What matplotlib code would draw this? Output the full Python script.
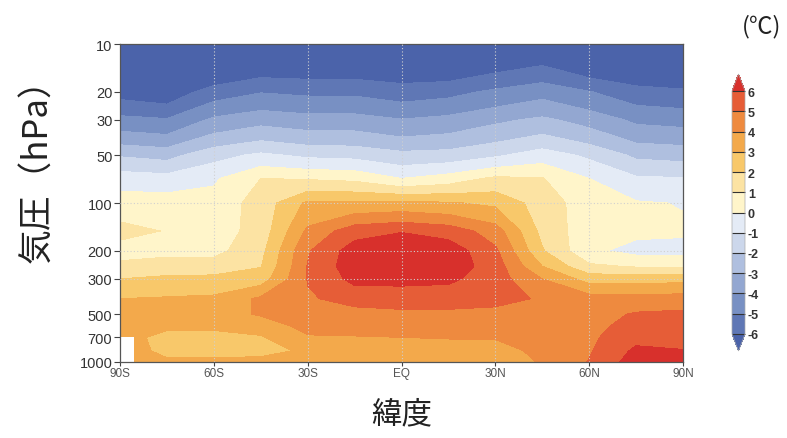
import numpy as np
import matplotlib
matplotlib.use("Agg")
import matplotlib.pyplot as plt
from matplotlib.colors import ListedColormap, BoundaryNorm
from matplotlib.ticker import NullLocator

plt.rcParams['font.family'] = ['Liberation Sans', 'DejaVu Sans']
plt.rcParams['axes.unicode_minus'] = False

# ---- data -------------------------------------------------------------
latitudes = [-90, -75, -60, -45, -30, -15, 0, 15, 30, 45, 60, 75, 90]
pressure_levels = [1000, 850, 700, 600, 500, 400, 300, 250, 200, 150, 100, 70, 50, 30, 20, 10]

# zonal-mean temperature change (degC); one row per pressure level (1000 -> 10 hPa),
# columns follow `latitudes`
temperature_change = [
    [3.6, 3.2, 3.2, 3.2, 3.3, 3.3, 3.3, 3.3, 3.4, 4.1, 5.05, 6.5, 6.4],      # 1000
    [3.6, 2.7, 2.7, 2.8, 3.1, 3.6, 3.6, 3.6, 3.7, 4.2, 4.9, 6.2, 6.05],      # 850
    [3.5, 2.6, 2.6, 2.9, 3.9, 3.95, 4.0, 4.05, 4.05, 4.3, 4.8, 5.7, 5.6],    # 700
    [3.5, 3.2, 3.2, 3.4, 4.3, 4.3, 4.4, 4.4, 4.4, 4.4, 4.7, 5.4, 5.4],       # 600
    [3.4, 3.4, 3.6, 4.1, 4.6, 4.7, 4.8, 4.8, 4.7, 4.6, 4.6, 5.1, 5.2],       # 500
    [3.0, 3.1, 3.2, 4.2, 4.9, 5.3, 5.4, 5.4, 5.3, 4.9, 4.5, 4.4, 4.5],       # 400
    [2.0, 2.2, 2.25, 2.5, 5.05, 6.3, 6.3, 6.2, 5.5, 4.0, 2.6, 2.6, 2.7],     # 300
    [1.25, 1.5, 1.5, 1.95, 5.05, 6.6, 6.7, 6.6, 5.5, 3.0, 1.2, 0.9, 0.9],    # 250
    [0.6, 0.7, 0.7, 1.7, 4.9, 6.5, 6.7, 6.6, 5.2, 2.1, 0.2, -0.3, -0.35],    # 200
    [1.3, 0.95, 0.5, 1.4, 4.2, 5.6, 5.95, 5.6, 4.5, 1.7, 0.4, 0.2, 0.15],    # 150
    [0.5, 0.5, 0.4, 1.4, 3.2, 3.2, 3.3, 3.1, 2.8, 1.5, 0.5, 0.1, -0.05],     # 100
    [-0.45, -0.6, -0.15, 1.0, 0.9, 0.75, 0.0, 0.45, 1.2, 1.05, 0.0, -0.85, -0.95],  # 70
    [-2.1, -2.35, -1.35, -0.8, -1.2, -1.3, -1.7, -1.6, -1.15, -0.5, -1.2, -2.2, -2.35],  # 50
    [-4.7, -4.9, -3.8, -3.35, -3.6, -3.6, -3.95, -3.7, -3.2, -2.8, -3.4, -4.2, -4.35],  # 30
    [-6.4, -6.7, -5.5, -5.05, -5.2, -5.2, -5.5, -5.3, -4.8, -4.35, -4.95, -5.6, -5.8],  # 20
    [-9.0, -9.5, -8.4, -7.6, -7.6, -7.6, -7.7, -7.8, -7.3, -6.95, -7.8, -8.0, -8.3],    # 10
]

contour_levels = [-6, -5, -4, -3, -2, -1, 0, 1, 2, 3, 4, 5, 6]
lat_ticks = [-90, -60, -30, 0, 30, 60, 90]
lat_labels = ['90S', '60S', '30S', 'EQ', '30N', '60N', '90N']
p_ticks = [10, 20, 30, 50, 100, 200, 300, 500, 700, 1000]
p_labels = ['10', '20', '30', '50', '100', '200', '300', '500', '700', '1000']
grid_pressures = [100, 200, 300]
grid_lats = [-60, -30, 0, 30, 60]

# region below the surface (no data) near the South Pole
missing_lats = [-90, -85.5]
missing_p_top = 700
missing_p_bottom = 1000

# ---- colours ----------------------------------------------------------
band_colors = ['#5f77b5', '#7890c3', '#93a7d1', '#afbfdf', '#ccd7eb', '#e4ebf6',
               '#fff5ca', '#fce3a3', '#f8c86a', '#f3a94b', '#ee8a3f', '#e65d37']
under_color = '#4b63aa'
over_color = '#d8302c'
cmap = ListedColormap(band_colors)
cmap.set_under(under_color)
cmap.set_over(over_color)
norm = BoundaryNorm(contour_levels, cmap.N)

# ---- figure -----------------------------------------------------------
fig = plt.figure(figsize=(7.87, 4.39), dpi=100)
ax = fig.add_axes([120/787, 76/439, 563/787, 318/439])

LAT, P = np.meshgrid(latitudes, pressure_levels)
Z = np.array(temperature_change)
ax.contourf(LAT, P, Z, levels=contour_levels, cmap=cmap, norm=norm, extend='both')

ax.fill_between(missing_lats, missing_p_top, missing_p_bottom, color='white', zorder=2, lw=0)

ax.set_yscale('log')
ax.set_ylim(1000, 10)
ax.set_xlim(-90, 90)
ax.yaxis.set_minor_locator(NullLocator())
ax.set_yticks(p_ticks)
ax.set_yticklabels(p_labels, fontsize=10.5, color='#333333')
ax.set_xticks(lat_ticks)
ax.set_xticklabels(lat_labels, fontsize=8.5, color='#555555')
ax.tick_params(axis='y', direction='out', length=4, width=0.8, color='#444444', pad=1.5)
ax.tick_params(axis='x', direction='out', length=3, width=0.8, color='#444444', pad=0.5)

for p in grid_pressures:
    ax.axhline(p, color='#d0d0d0', lw=0.8, ls=(0, (1, 2)), zorder=3)
for la in grid_lats:
    ax.axvline(la, color='#d0d0d0', lw=0.8, ls=(0, (1, 2)), zorder=3)

for s in ax.spines.values():
    s.set_color('#555555')
    s.set_linewidth(0.9)

jp = ['Noto Sans CJK JP', 'DejaVu Sans']
ax.set_xlabel('緯度', family=jp, fontsize=22, color='#222222', labelpad=14)
ax.set_ylabel('気圧（hPa）', family=jp, fontsize=25, color='#222222')
ax.yaxis.set_label_coords(-0.115, 0.63)

# ---- colorbar ---------------------------------------------------------
cax = fig.add_axes([732/787, 87/439, 13/787, 277/439])
sm = matplotlib.cm.ScalarMappable(norm=norm, cmap=cmap)
cb = fig.colorbar(sm, cax=cax, extend='both', extendfrac=0.07, drawedges=True,
                  ticks=contour_levels)
cb.dividers.set_color('#333333')
cb.dividers.set_linewidth(0.8)
cb.outline.set_edgecolor('#aaaaaa')
cb.outline.set_linewidth(0.5)
cax.tick_params(length=0, pad=2, labelsize=9, labelcolor='#333333')
for t in cax.get_yticklabels():
    t.set_fontweight('bold')

fig.text(762/787, 1 - 27/439, '(℃)', family=jp, fontsize=17, color='#222222',
         ha='center', va='center')

fig.savefig('out.png', dpi=100)
